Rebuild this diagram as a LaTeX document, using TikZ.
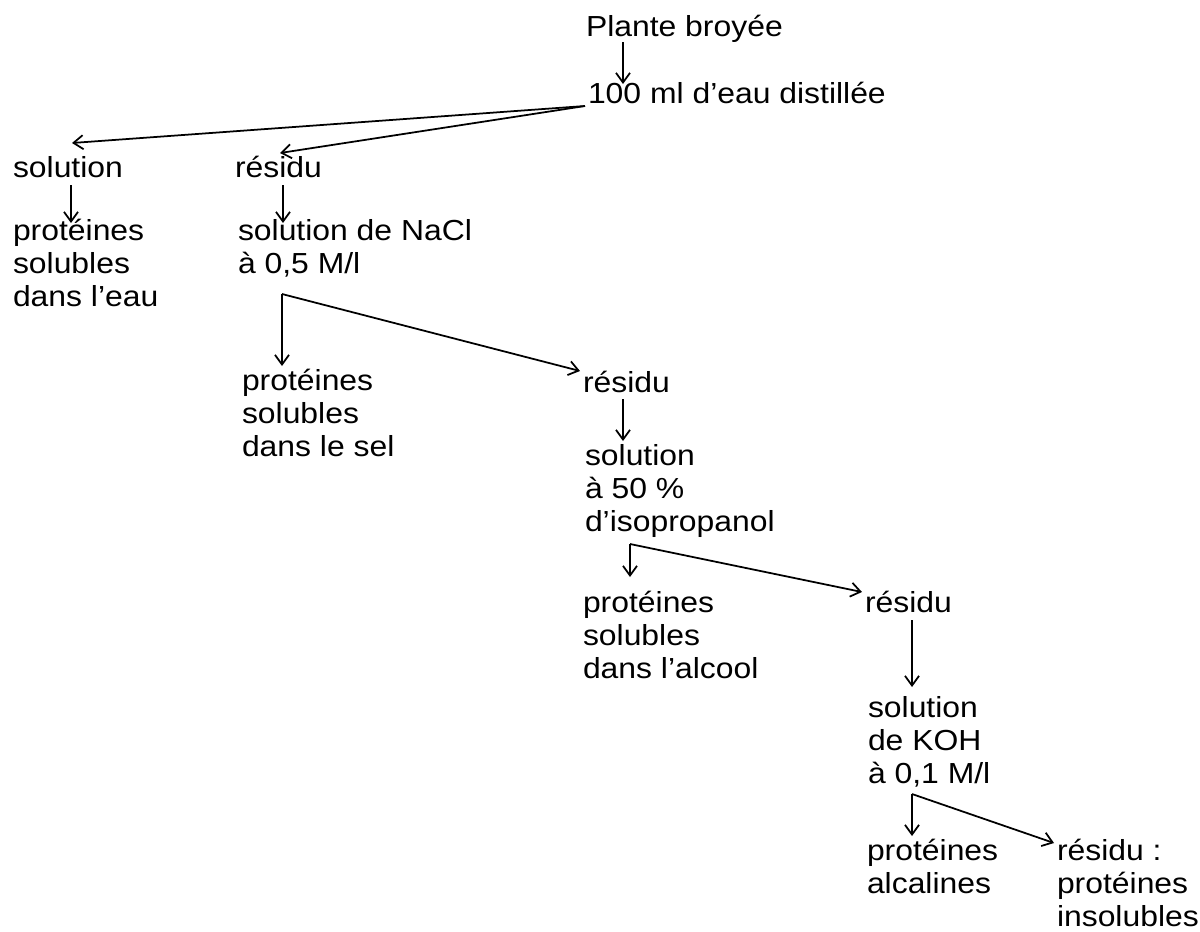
\documentclass[tikz,border=0pt]{standalone}
\usepackage{fontspec}
\setmainfont{Liberation Sans}[FakeStretch=1.1]
\usetikzlibrary{arrows.meta,calc}
\newcommand{\lblfont}{\fontsize{16.5pt}{18.78pt}\selectfont}
\newcommand{\twol}[2]{\vtop{\hbox{#1}\hbox{#2}}}
\newcommand{\threel}[3]{\vtop{\hbox{#1}\hbox{#2}\hbox{#3}}}
\tikzset{
  lbl/.style={anchor=base west, inner sep=0pt, outer sep=0pt, font=\lblfont},
  arr/.style={-{Straight Barb[length=5.5pt,width=8pt]}, line width=1pt, black},
}
\begin{document}
\begin{tikzpicture}[x=0.02cm, y=-0.02cm]
\useasboundingbox (0,0) rectangle (1200,931);
% nodes
\node[lbl] (plante) at (586,36) {Plante broyée};
\node[lbl] (eau) at (588,103) {100 ml d’eau distillée};
\node[lbl] (sol1) at (13,177) {solution};
\node[lbl] (res1) at (235,177) {résidu};
\node[lbl] (prot1) at (13,240) {\threel{protéines}{solubles}{dans l’eau}};
\node[lbl] (nacl) at (238,240) {\twol{solution de NaCl}{à 0,5 M/l}};
\node[lbl] (prot2) at (242,390) {\threel{protéines}{solubles}{dans le sel}};
\node[lbl] (res2) at (583,392) {résidu};
\node[lbl] (iso) at (585,465) {\threel{solution}{à 50 \%}{d’isopropanol}};
\node[lbl] (prot3) at (583,612) {\threel{protéines}{solubles}{dans l’alcool}};
\node[lbl] (res3) at (865,612) {résidu};
\node[lbl] (koh) at (868,717) {\threel{solution}{de KOH}{à 0,1 M/l}};
\node[lbl] (prot4) at (867,860) {\twol{protéines}{alcalines}};
\node[lbl] (res4) at (1057,860) {\threel{résidu :}{protéines}{insolubles}};
% connector points (split points)
\coordinate (eauL) at ($(eau.base west)+(-3,3)$);
\coordinate (nacls) at ($(nacl.base west)+(44,54)$);
\coordinate (isos) at ($(iso.base west)+(45,79)$);
\coordinate (kohs) at ($(koh.base west)+(44,77)$);
% connectors
\draw[arr] ($(plante.base west)+(37,6)$) -- ($(eau.base west)+(35,-19)$);
\draw[arr] (eauL) -- ($(sol1.base west)+(59,-34)$);
\draw[arr] (eauL) -- ($(res1.base west)+(45,-24)$);
\draw[arr] ($(sol1.base west)+(58,8)$) -- ($(prot1.base west)+(58,-17)$);
\draw[arr] ($(res1.base west)+(48,8)$) -- ($(nacl.base west)+(45,-17)$);
\draw[arr] (nacls) -- ($(prot2.base west)+(40,-24)$);
\draw[arr] (nacls) -- ($(res2.base west)+(-3,-21)$);
\draw[arr] ($(res2.base west)+(40,7)$) -- ($(iso.base west)+(38,-24)$);
\draw[arr] (isos) -- ($(prot3.base west)+(47,-35)$);
\draw[arr] (isos) -- ($(res3.base west)+(-3,-20)$);
\draw[arr] ($(res3.base west)+(47,8)$) -- ($(koh.base west)+(44,-30)$);
\draw[arr] (kohs) -- ($(prot4.base west)+(45,-24)$);
\draw[arr] (kohs) -- ($(res4.base west)+(-3,-17)$);
\end{tikzpicture}
\end{document}
